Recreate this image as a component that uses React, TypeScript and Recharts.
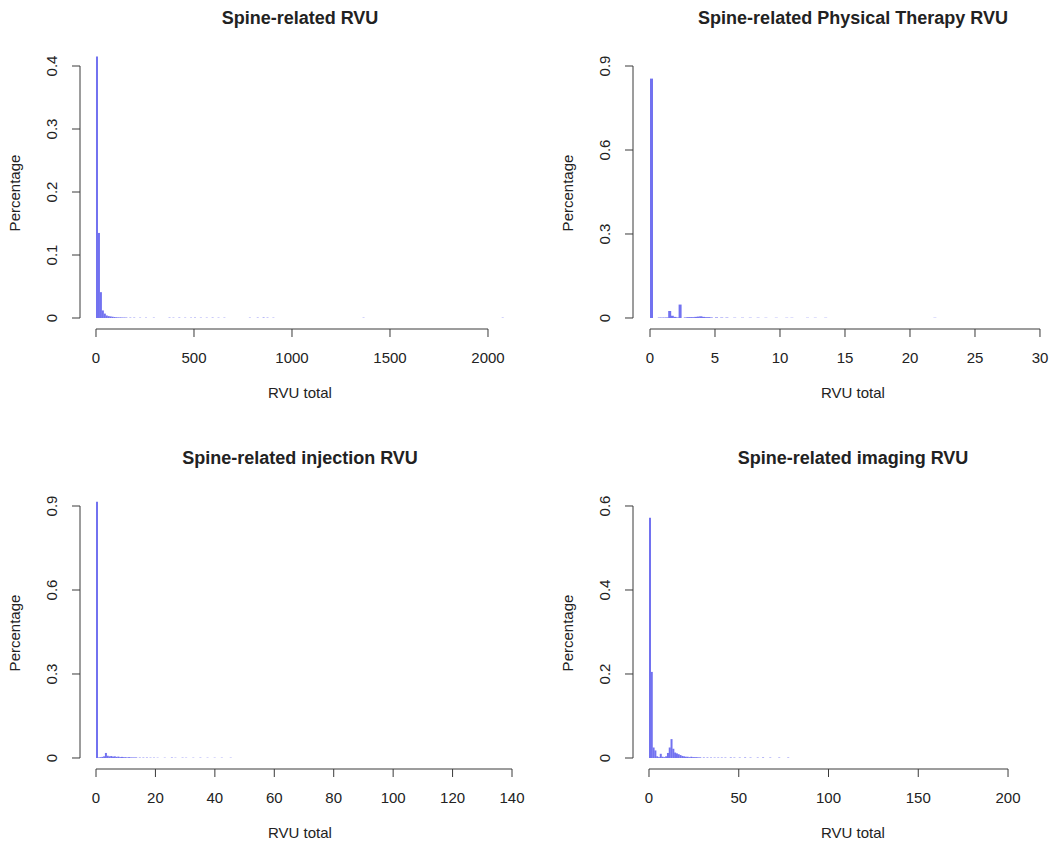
import React from 'react';
import { BarChart, Bar, XAxis, YAxis, ReferenceLine } from 'recharts';

// Spine-related RVU (bin width 10)
const totalBinWidth = 10;
const totalBinStart = [0, 10, 20, 30, 40, 50, 60, 70, 80, 90, 100, 110, 120, 130, 140, 150, 170, 190, 220, 250, 290, 370, 390, 420, 450, 480, 500, 530, 560, 590, 620, 650, 780, 820, 850, 870, 900, 1360, 2070];
const totalShare = [0.415, 0.135, 0.041, 0.012, 0.007, 0.004, 0.003, 0.0025, 0.002, 0.0015, 0.0012, 0.001, 0.001, 0.0008, 0.0008, 0.0007, 0.0006, 0.0006, 0.0005, 0.0005, 0.0005, 0.0006, 0.0005, 0.0006, 0.0005, 0.0005, 0.0006, 0.0005, 0.0005, 0.0006, 0.0005, 0.0005, 0.0005, 0.0006, 0.0008, 0.0006, 0.0005, 0.0005, 0.0005];
const totalXTicks = [0, 500, 1000, 1500, 2000];
const totalYTicks = [0, 0.1, 0.2, 0.3, 0.4];

// Physical therapy (bin width 0.2)
const ptBinWidth = 0.2;
const ptBinStart = [0, 0.6, 0.8, 1.0, 1.2, 1.4, 1.6, 1.8, 2.0, 2.2, 2.6, 2.8, 3.0, 3.2, 3.4, 3.6, 3.8, 4.0, 4.2, 4.4, 4.6, 5.0, 5.4, 5.8, 6.4, 7.0, 7.6, 8.2, 8.8, 9.6, 10.4, 10.8, 12.0, 12.6, 13.4, 21.8];
const ptShare = [0.855, 0.0015, 0.0015, 0.0015, 0.002, 0.025, 0.008, 0.004, 0.002, 0.048, 0.002, 0.003, 0.003, 0.003, 0.004, 0.005, 0.006, 0.004, 0.003, 0.003, 0.002, 0.002, 0.0015, 0.0015, 0.001, 0.001, 0.001, 0.001, 0.0008, 0.0008, 0.0008, 0.0008, 0.0008, 0.0008, 0.0008, 0.0008];
const ptXTicks = [0, 5, 10, 15, 20, 25, 30];
const ptYTicks = [0, 0.3, 0.6, 0.9];

// Injection (bin width 0.6)
const injBinWidth = 0.6;
const injBinStart = [0, 0.6, 1.2, 1.8, 2.4, 3.0, 3.6, 4.2, 4.8, 5.4, 6.0, 6.6, 7.2, 7.8, 8.4, 9.0, 9.6, 10.2, 10.8, 11.4, 12.0, 12.6, 13.2, 14.4, 15.6, 16.8, 18.0, 19.2, 20.4, 22.8, 25.2, 26.4, 28.8, 30.0, 32.4, 34.8, 37.2, 39.6, 42.0, 45.0];
const injShare = [0.915, 0.002, 0.003, 0.004, 0.006, 0.018, 0.008, 0.006, 0.007, 0.005, 0.006, 0.004, 0.005, 0.003, 0.004, 0.003, 0.003, 0.002, 0.003, 0.002, 0.002, 0.002, 0.002, 0.0015, 0.0015, 0.0015, 0.0012, 0.0012, 0.001, 0.001, 0.0015, 0.001, 0.0012, 0.001, 0.001, 0.0012, 0.001, 0.001, 0.001, 0.001];
const injXTicks = [0, 20, 40, 60, 80, 100, 120, 140];
const injYTicks = [0, 0.3, 0.6, 0.9];

// Imaging (bin width 1)
const imgBinWidth = 1;
const imgBinStart = [0, 1, 2, 3, 4, 5, 6, 7, 8, 9, 10, 11, 12, 13, 14, 15, 16, 17, 18, 19, 20, 21, 22, 23, 24, 25, 26, 27, 28, 30, 32, 34, 36, 38, 40, 42, 45, 47, 50, 53, 56, 60, 63, 67, 72, 77];
const imgShare = [0.572, 0.205, 0.025, 0.018, 0.004, 0.002, 0.010, 0.003, 0.002, 0.004, 0.012, 0.025, 0.045, 0.022, 0.013, 0.011, 0.009, 0.007, 0.005, 0.004, 0.003, 0.003, 0.002, 0.003, 0.002, 0.002, 0.002, 0.0015, 0.0015, 0.0012, 0.0012, 0.001, 0.001, 0.001, 0.001, 0.001, 0.0012, 0.001, 0.001, 0.0012, 0.001, 0.001, 0.0012, 0.001, 0.001, 0.001];
const imgXTicks = [0, 50, 100, 150, 200];
const imgYTicks = [0, 0.2, 0.4, 0.6];

const BAR = '#7272f0';
const AXIS = '#3a3a3a';
const TEXT = '#222';
const FONT = '"Liberation Sans", Arial, Helvetica, sans-serif';

// panel geometry (R-like mfrow layout)
const PANEL_W = 553;
const PANEL_H = 440;
const PLOT_L = 80;
const PLOT_T = 40;
const PLOT_W = 440;
const PLOT_H = 289;
const YAXIS_W = 60;
const XAXIS_H = 45;

type PanelProps = {
  title: string;
  left: number;
  top: number;
  binWidth: number;
  starts: number[];
  shares: number[];
  xDomain: [number, number];
  xTicks: number[];
  yDomain: [number, number];
  yTicks: number[];
};

const XTick = ({ x, y, payload }: any) => (
  <text x={x} y={y} dy="0.71em" textAnchor="middle" fontSize={15} fill={TEXT} fontFamily={FONT}>
    {String(payload.value)}
  </text>
);

const YTick = ({ x, y, payload }: any) => {
  const bx = x - 15;
  return (
    <text x={bx} y={y} transform={`rotate(-90 ${bx} ${y})`} textAnchor="middle" fontSize={15} fill={TEXT} fontFamily={FONT}>
      {String(payload.value)}
    </text>
  );
};

function Panel(p: PanelProps) {
  const data = p.starts.map((s, i) => ({ x: s + p.binWidth / 2, share: p.shares[i] }));
  const lastX = p.xTicks[p.xTicks.length - 1];
  const lastY = p.yTicks[p.yTicks.length - 1];
  return (
    <div style={{ position: 'absolute', left: p.left, top: p.top, width: PANEL_W, height: PANEL_H }}>
      <div style={{ position: 'absolute', left: PLOT_L, top: 8, width: PLOT_W, lineHeight: '20px', fontSize: 18, fontWeight: 'bold', textAlign: 'center', color: TEXT }}>
        {p.title}
      </div>
      <div style={{ position: 'absolute', left: 15 - 100, top: 192.5 - 9, width: 200, height: 18, lineHeight: '18px', fontSize: 15, textAlign: 'center', color: TEXT, transform: 'rotate(-90deg)' }}>
        Percentage
      </div>
      <div style={{ position: 'absolute', left: PLOT_L, top: 384, width: PLOT_W, lineHeight: '18px', fontSize: 15, textAlign: 'center', color: TEXT }}>
        RVU total
      </div>
      <BarChart
        width={PANEL_W}
        height={PANEL_H}
        data={data}
        barCategoryGap={0}
        barGap={0}
        margin={{ top: PLOT_T, left: PLOT_L - YAXIS_W, right: PANEL_W - PLOT_L - PLOT_W, bottom: PANEL_H - PLOT_T - PLOT_H - XAXIS_H }}
      >
        <XAxis
          dataKey="x"
          type="number"
          domain={p.xDomain}
          allowDataOverflow
          ticks={p.xTicks}
          interval={0}
          height={XAXIS_H}
          axisLine={false}
          stroke={AXIS}
          tickSize={8}
          tickMargin={15}
          tick={<XTick />}
        />
        <YAxis
          type="number"
          domain={p.yDomain}
          allowDataOverflow
          ticks={p.yTicks}
          interval={0}
          width={YAXIS_W}
          axisLine={false}
          stroke={AXIS}
          tickSize={8}
          tickMargin={0}
          tick={<YTick />}
        />
        <Bar dataKey="share" fill={BAR} isAnimationActive={false} />
        <ReferenceLine
          segment={[{ x: p.xTicks[0], y: p.yDomain[0] }, { x: lastX, y: p.yDomain[0] }]}
          stroke={AXIS}
          ifOverflow="visible"
        />
        <ReferenceLine
          segment={[{ x: p.xDomain[0], y: p.yTicks[0] }, { x: p.xDomain[0], y: lastY }]}
          stroke={AXIS}
          ifOverflow="visible"
        />
      </BarChart>
    </div>
  );
}

export default function App() {
  return (
    <div style={{ position: 'absolute', left: 0, top: 0, width: 1049, height: 842, overflow: 'hidden', background: '#fff', fontFamily: FONT }}>
      <Panel
        title="Spine-related RVU"
        left={0}
        top={0}
        binWidth={totalBinWidth}
        starts={totalBinStart}
        shares={totalShare}
        xDomain={[-81.6, 2163.3]}
        xTicks={totalXTicks}
        yDomain={[-0.01746, 0.44127]}
        yTicks={totalYTicks}
      />
      <Panel
        title="Spine-related Physical Therapy RVU"
        left={553}
        top={0}
        binWidth={ptBinWidth}
        starts={ptBinStart}
        shares={ptShare}
        xDomain={[-1.308, 32.54]}
        xTicks={ptXTicks}
        yDomain={[-0.03929, 0.99286]}
        yTicks={ptYTicks}
      />
      <Panel
        title="Spine-related injection RVU"
        left={0}
        top={440}
        binWidth={injBinWidth}
        starts={injBinStart}
        shares={injShare}
        xDomain={[-5.385, 142.69]}
        xTicks={injXTicks}
        yDomain={[-0.03929, 0.99286]}
        yTicks={injYTicks}
      />
      <Panel
        title="Spine-related imaging RVU"
        left={553}
        top={440}
        binWidth={imgBinWidth}
        starts={imgBinStart}
        shares={imgShare}
        xDomain={[-8.91, 236.2]}
        xTicks={imgXTicks}
        yDomain={[-0.02619, 0.6619]}
        yTicks={imgYTicks}
      />
    </div>
  );
}
